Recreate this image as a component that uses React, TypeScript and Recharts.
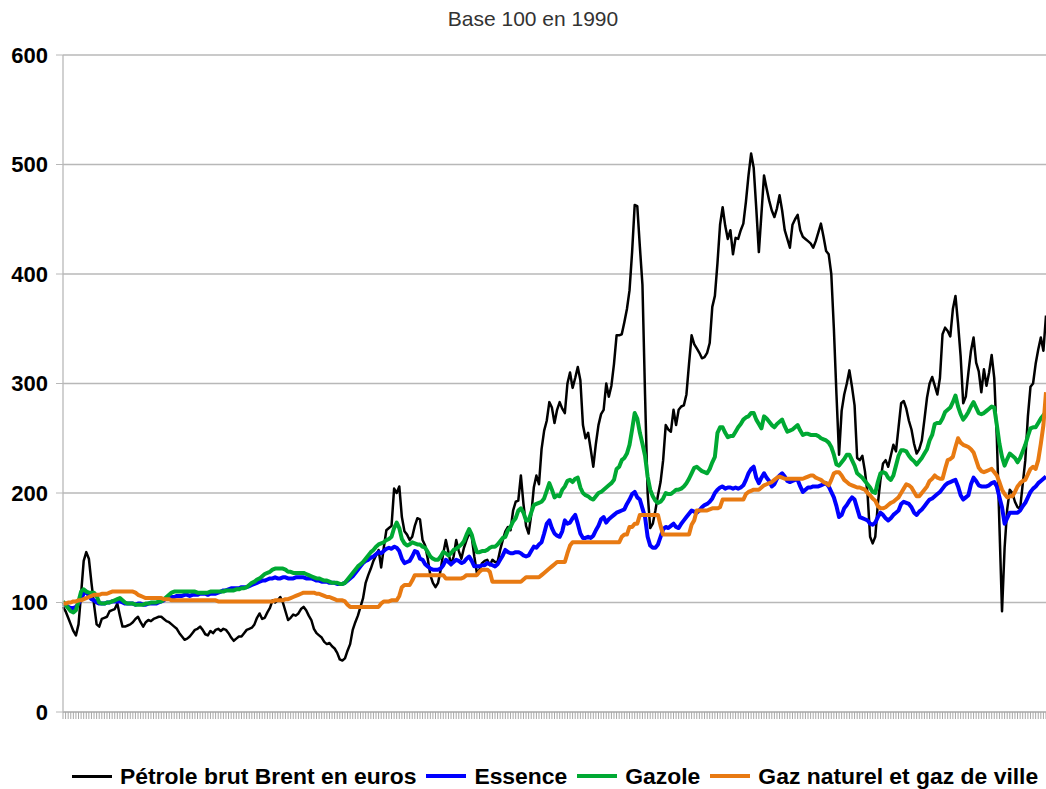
import React from "react";
import { LineChart, Line, XAxis, YAxis, CartesianGrid } from "recharts";

// Monthly index values (base 100 = 1990), January 1990 onwards
const brent: number[] = [
  96, 92, 86, 80, 74, 70, 80, 108, 138, 146, 140, 118,
  98, 80, 78, 85, 86, 87, 92, 93, 94, 99, 88, 78,
  78, 79, 80, 82, 85, 87, 82, 78, 82, 84, 83, 85,
  86, 87, 87, 85, 83, 82, 80, 78, 76, 72, 69, 66,
  67, 69, 72, 75, 76, 78, 75, 71, 70, 74, 72, 75,
  76, 74, 76, 75, 72, 68, 65, 67, 69, 69, 72, 75,
  76, 77, 80, 86, 90, 85, 86, 91, 95, 102, 100, 102,
  105, 100, 92, 84, 86, 89, 88, 90, 94, 96, 93, 88,
  84, 76, 72, 70, 68, 64, 62, 63, 60, 58, 54, 48,
  47, 49, 56, 62, 75, 82, 88, 96, 104, 118, 125, 131,
  138, 143, 148, 132, 150, 166, 168, 170, 204, 200, 206, 178,
  165, 162, 157, 160, 170, 177, 176, 157, 152, 140, 125, 118,
  114, 118, 130, 145, 157, 146, 134, 142, 157, 147, 140, 150,
  157, 163, 160, 142, 127, 130, 136, 138, 139, 134, 139, 137,
  137, 148, 157, 165, 169, 166, 184, 192, 193, 216, 190, 170,
  163, 180, 205, 216, 208, 240, 257, 266, 283, 278, 264, 276,
  283, 277, 273, 300, 310, 296, 305, 315, 303, 262, 250, 255,
  240, 224, 245, 262, 272, 276, 300, 288, 298, 318, 344, 344,
  345, 356, 368, 385, 420, 463, 462, 425, 390, 290, 200, 168,
  172, 184, 198, 210, 230, 262, 258, 256, 276, 262, 276, 279,
  280, 290, 318, 344, 336, 332, 328, 323, 324, 328, 337, 370,
  380, 410, 445, 461, 444, 432, 440, 418, 433, 432, 440, 446,
  466, 490, 510, 497, 460, 420, 455, 490, 478, 467, 458, 452,
  460, 472, 458, 440, 432, 424, 445, 450, 454, 440, 434, 432,
  430, 428, 424, 430, 438, 446, 434, 421, 418, 400, 350, 290,
  235, 275, 290, 300, 312, 297, 280, 232, 230, 234, 220, 200,
  160, 154, 160, 190, 212, 227, 230, 224, 234, 244, 238, 260,
  282, 284, 277, 266, 258, 245, 236, 240, 248, 267, 287, 300,
  306, 298, 290, 305, 345, 351, 348, 343, 368, 380, 355, 325,
  282, 288, 310, 330, 342, 319, 311, 292, 313, 298, 310, 326,
  305, 250, 170, 92, 150, 185, 203, 200, 192, 187, 186, 208,
  230, 270, 297, 300, 318, 331, 342, 330, 362,
];

const essence: number[] = [
  99, 98, 96, 95, 95, 96, 99, 103, 108, 110, 106, 103,
  102, 100, 99, 99, 99, 100, 100, 101, 101, 101, 101, 100,
  99, 99, 99, 99, 98, 99, 99, 98, 98, 99, 99, 99,
  99, 100, 101, 102, 104, 104, 105, 105, 106, 106, 106, 107,
  107, 106, 107, 107, 107, 108, 108, 108, 107, 108, 108, 108,
  109, 110, 111, 111, 112, 113, 113, 113, 113, 114, 114, 114,
  115, 116, 117, 118, 119, 120, 120, 121, 122, 122, 123, 122,
  122, 123, 123, 122, 122, 122, 123, 123, 123, 123, 122, 122,
  122, 121, 120, 120, 119, 119, 119, 118, 118, 118, 117, 117,
  117, 118, 120, 122, 124, 127, 130, 133, 136, 138, 139, 141,
  142, 144, 146, 145, 147, 149, 150, 149, 151, 150, 147, 140,
  136, 137, 138, 142, 147, 146, 140, 139, 135, 133, 131, 130,
  130, 130, 131, 134, 139, 137, 135, 137, 139, 138, 136, 137,
  140, 142, 138, 133, 133, 133, 134, 134, 136, 135, 134, 133,
  135, 139, 143, 148, 146, 145, 145, 146, 146, 145, 143, 142,
  143, 147, 151, 150, 153, 155, 163, 172, 175, 168, 163, 161,
  160, 165, 175, 172, 173, 177, 180, 172, 163, 159, 159, 160,
  159, 161, 166, 170, 176, 178, 173, 176, 178, 180, 182, 183,
  184, 185, 190, 194, 199, 201, 196, 194, 186, 178, 160, 152,
  150, 150, 153, 160, 167, 169, 168, 170, 172, 169, 168, 172,
  175, 178, 181, 184, 183, 182, 184, 187, 189, 190, 192, 195,
  200, 203, 205, 206, 204, 205, 205, 204, 205, 204, 205, 207,
  212, 218, 222, 224, 214, 209, 214, 218, 214, 211, 206, 208,
  213, 216, 218, 215, 211, 210, 211, 212, 212, 206, 201, 203,
  205, 205, 206, 206, 206, 207, 208, 209, 206, 201, 196, 188,
  178, 180, 186, 189, 193, 196, 194, 186, 178, 177, 176, 175,
  172, 171, 173, 178, 182, 180, 177, 175, 177, 180, 182, 184,
  190, 192, 191, 190, 187, 182, 180, 183, 185, 188, 191, 194,
  195, 197, 199, 201, 204, 207, 209, 210, 211, 212, 206, 198,
  194, 196, 198, 208, 214, 211, 207, 206, 206, 206, 207, 209,
  210, 206, 196, 187, 172, 177, 182, 182, 182, 182, 184, 188,
  191, 196, 201, 204, 206, 209, 211, 213, 215,
];

const gazole: number[] = [
  101, 98, 95, 92, 91, 93, 101, 110, 112, 110, 109, 109,
  109, 106, 100, 99, 99, 100, 100, 101, 102, 103, 104, 102,
  100, 99, 99, 99, 98, 98, 98, 98, 99, 99, 100, 100,
  100, 101, 101, 103, 105, 107, 109, 110, 110, 110, 110, 110,
  110, 110, 110, 110, 109, 109, 109, 109, 109, 110, 110, 110,
  110, 110, 110, 111, 111, 111, 111, 112, 112, 113, 113, 114,
  116, 118, 119, 121, 122, 124, 126, 127, 128, 130, 131, 131,
  131, 131, 130, 128, 128, 127, 127, 127, 127, 127, 126, 125,
  124, 123, 122, 122, 121, 120, 120, 119, 118, 118, 118, 117,
  117, 118, 121, 124, 127, 130, 133, 135, 137, 140, 143, 146,
  148, 151, 153, 154, 155, 157, 158, 160, 168, 173, 168, 158,
  154, 152, 153, 155, 154, 153, 153, 151, 150, 146, 142, 140,
  139, 139, 142, 146, 145, 143, 145, 148, 149, 151, 153, 156,
  162, 167, 162, 153, 146, 146, 147, 147, 148, 150, 151, 151,
  153, 156, 159, 160, 166, 169, 174, 177, 184, 186, 182, 175,
  175, 182, 189, 190, 191, 192, 195, 202, 209, 203, 196, 198,
  197, 203, 206, 211, 212, 210, 213, 214, 205, 200, 198, 197,
  195, 194, 197, 200, 201, 203, 205, 207, 209, 212, 222, 224,
  230, 232, 236, 244, 258, 273, 268, 255, 245, 234, 215, 203,
  197, 193, 191, 192, 195, 200, 199, 199, 201, 203, 203, 204,
  206, 209, 213, 218, 223, 224, 222, 220, 219, 218, 222, 228,
  233, 255, 260, 260, 255, 251, 252, 252, 256, 260, 263, 267,
  269, 270, 273, 273, 267, 263, 259, 270, 268, 265, 262, 260,
  263, 265, 267, 261, 256, 257, 258, 260, 262, 257, 253, 254,
  254, 253, 253, 253, 252, 250, 249, 248, 246, 242, 235, 226,
  225, 228, 231, 235, 235, 230, 225, 218, 216, 214, 211, 208,
  205, 201, 200, 210, 218, 219, 218, 214, 212, 216, 225, 234,
  239, 239, 238, 234, 231, 229, 226, 229, 232, 236, 240, 248,
  253, 263, 264, 264, 268, 274, 276, 278, 283, 289, 279, 272,
  267, 270, 274, 279, 283, 278, 273, 272, 273, 275, 277, 279,
  278, 262, 245, 233, 225, 231, 236, 234, 232, 228, 232, 238,
  244, 252, 259, 260, 260, 264, 268, 271, 274,
];

const gazNaturel: number[] = [
  99, 99, 100, 100, 101, 101, 102, 102, 103, 104, 105, 106,
  107, 107, 107, 108, 108, 108, 109, 110, 110, 110, 110, 110,
  110, 110, 110, 110, 109, 107, 106, 105, 104, 104, 104, 104,
  104, 104, 104, 103, 103, 103, 102, 102, 102, 102, 102, 102,
  102, 102, 102, 102, 102, 102, 102, 102, 102, 102, 102, 102,
  101, 101, 101, 101, 101, 101, 101, 101, 101, 101, 101, 101,
  101, 101, 101, 101, 101, 101, 101, 101, 101, 101, 102, 102,
  102, 102, 103, 103, 104, 105, 106, 107, 108, 109, 109, 109,
  109, 109, 108, 108, 107, 106, 105, 105, 104, 103, 102, 102,
  102, 101, 98, 96, 96, 96, 96, 96, 96, 96, 96, 96,
  96, 96, 96, 99, 101, 101, 101, 102, 102, 102, 106, 114,
  116, 116, 116, 120, 125, 125, 125, 125, 125, 125, 125, 125,
  125, 125, 125, 125, 122, 122, 122, 122, 122, 122, 122, 123,
  125, 125, 125, 125, 125, 128, 130, 130, 130, 128, 119, 119,
  119, 119, 119, 119, 119, 119, 119, 119, 119, 119, 121, 123,
  123, 123, 123, 123, 123, 125, 127, 129, 131, 133, 135, 137,
  137, 137, 137, 145, 152, 155, 155, 155, 155, 155, 155, 155,
  155, 155, 155, 155, 155, 155, 155, 155, 155, 155, 155, 155,
  160, 162, 162, 169, 169, 172, 172, 180, 180, 180, 180, 180,
  180, 180, 180, 170, 162, 162, 162, 162, 162, 162, 162, 162,
  162, 162, 162, 171, 175, 184, 184, 184, 184, 184, 185, 186,
  186, 186, 187, 194, 194, 194, 194, 194, 194, 194, 194, 194,
  199, 201, 202, 203, 203, 203, 205, 207, 208, 209, 210, 212,
  214, 215, 214, 213, 213, 213, 213, 213, 213, 213, 213, 214,
  215, 216, 216, 214, 213, 212, 210, 209, 207, 212, 218, 219,
  219, 216, 212, 210, 208, 207, 206, 205, 205, 204, 203, 200,
  198, 195, 193, 188, 186, 186, 187, 189, 191, 192, 194, 196,
  200, 204, 208, 207, 205, 201, 197, 197, 200, 203, 206, 211,
  213, 216, 214, 213, 213, 222, 230, 231, 233, 242, 250, 246,
  244, 243, 242, 240, 237, 230, 223, 220, 219, 220, 221, 222,
  219, 216, 210, 203, 199, 196, 197, 197, 201, 206, 209, 211,
  212, 217, 222, 224, 222, 230, 245, 262, 292,
];

const yTicks = [0, 100, 200, 300, 400, 500, 600];
const title = "Base 100 en 1990";
const seriesKeys = ["brent", "essence", "gazole", "gaz"];
const seriesNames = [
  "Pétrole brut Brent en euros",
  "Essence",
  "Gazole",
  "Gaz naturel et gaz de ville",
];
const seriesColors = ["#000000", "#0000ff", "#00a933", "#e87a12"];
const seriesWidths = [2.5, 4, 4, 4];

const data = brent.map((v, i) => ({
  i,
  month: `${1990 + Math.floor(i / 12)}-${String((i % 12) + 1).padStart(2, "0")}`,
  brent: v,
  essence: essence[i],
  gazole: gazole[i],
  gaz: gazNaturel[i],
}));
const xTicks = data.map((d) => d.i);

const FONT = '"Liberation Sans", Arial, Helvetica, sans-serif';

export default function App() {
  return (
    <div
      style={{
        position: "absolute",
        left: 0,
        top: 0,
        width: 1046,
        height: 789,
        background: "#ffffff",
        fontFamily: FONT,
        overflow: "hidden",
      }}
    >
      <LineChart
        width={1046}
        height={789}
        data={data}
        margin={{ top: 55, right: 0, bottom: 47, left: 0 }}
      >
        <CartesianGrid vertical={false} stroke="#b8b8b8" strokeWidth={1.3} />
        <XAxis
          dataKey="i"
          type="number"
          domain={[0, data.length - 1]}
          ticks={xTicks}
          interval={0}
          tickFormatter={() => ""}
          tickSize={7}
          height={30}
          axisLine={{ stroke: "#b8b8b8", strokeWidth: 1.3 }}
          tickLine={{ stroke: "#a8a8a8" }}
        />
        <YAxis
          domain={[0, 600]}
          ticks={yTicks}
          interval={0}
          width={63}
          tickSize={7}
          tickMargin={8}
          axisLine={{ stroke: "#b8b8b8", strokeWidth: 1.3 }}
          tickLine={{ stroke: "#b8b8b8" }}
          tick={{ fill: "#000000", fontSize: 22, fontWeight: "bold", fontFamily: FONT }}
        />
        {seriesKeys.map((k, idx) => (
          <Line
            key={k}
            dataKey={k}
            name={seriesNames[idx]}
            type="linear"
            stroke={seriesColors[idx]}
            strokeWidth={seriesWidths[idx]}
            strokeLinejoin="round"
            dot={false}
            activeDot={false}
            isAnimationActive={false}
          />
        ))}
      </LineChart>
      <div
        style={{
          position: "absolute",
          top: 7,
          left: 0,
          width: 1066,
          textAlign: "center",
          fontSize: 21,
          lineHeight: "24px",
          color: "#333333",
        }}
      >
        {title}
      </div>
      <div
        style={{
          position: "absolute",
          top: 763,
          left: 72,
          display: "flex",
          alignItems: "center",
          whiteSpace: "nowrap",
          fontSize: 22.9,
          fontWeight: "bold",
          lineHeight: "26px",
          color: "#000",
        }}
      >
        {seriesNames.map((n, idx) => (
          <div
            key={n}
            style={{ display: "flex", alignItems: "center", marginRight: idx < 3 ? 10 : 0 }}
          >
            <div
              style={{
                width: 40,
                height: idx === 0 ? 3 : 4,
                background: seriesColors[idx],
                marginRight: 8,
              }}
            />
            <span>{n}</span>
          </div>
        ))}
      </div>
    </div>
  );
}
